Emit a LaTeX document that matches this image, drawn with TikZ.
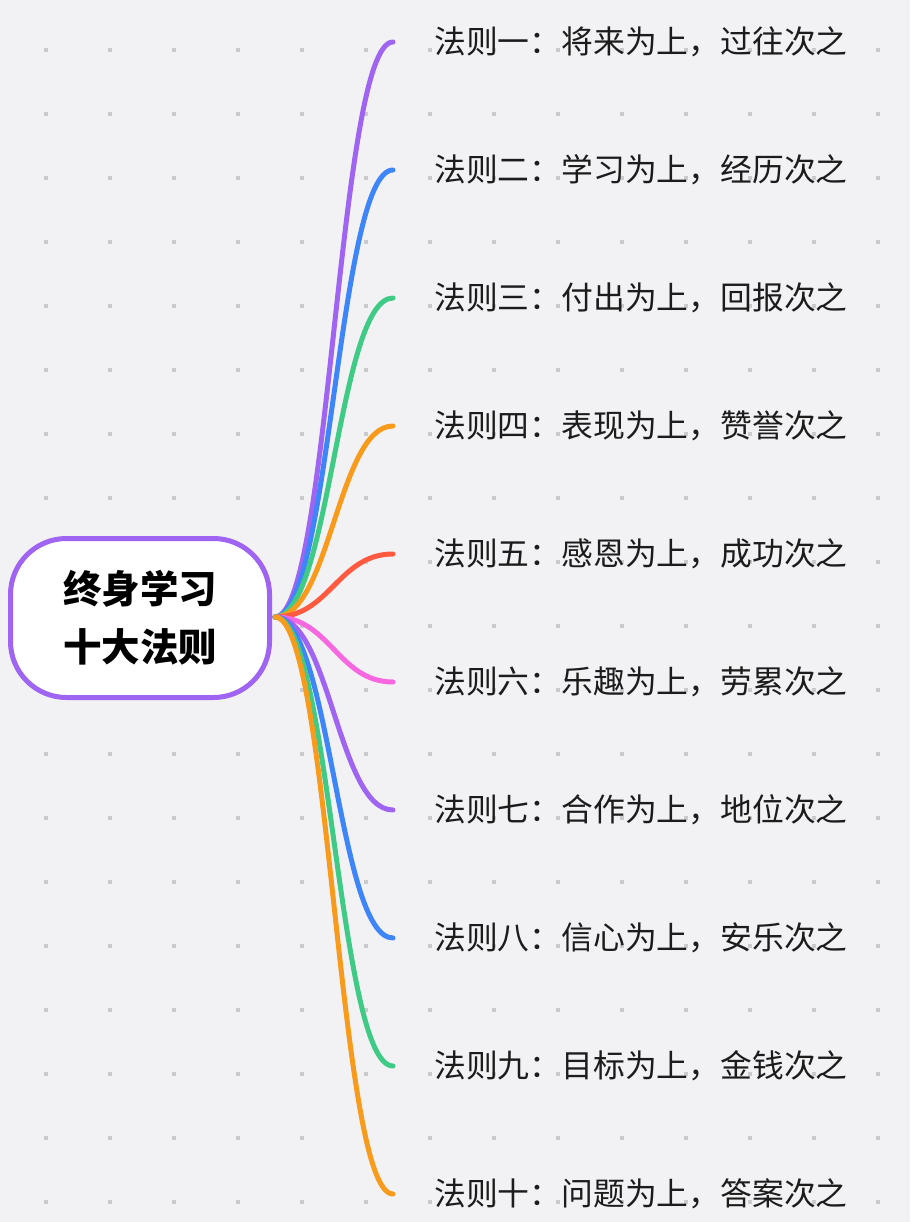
\documentclass[tikz,border=0pt]{standalone}
\usepackage{fontspec}
\setmainfont{Noto Sans CJK SC}
\definecolor{bg}{HTML}{F2F2F5}
\definecolor{dot}{HTML}{CBCBCD}
\definecolor{cpur}{HTML}{A064F2}
\definecolor{cblu}{HTML}{3F85FA}
\definecolor{cgrn}{HTML}{3FCB86}
\definecolor{corg}{HTML}{F89B1C}
\definecolor{cred}{HTML}{FF5A3F}
\definecolor{cpnk}{HTML}{F767DF}
\definecolor{ink}{HTML}{1C1C1C}
\begin{document}
\begin{tikzpicture}
[x=1pt,y=-1pt,
 br/.style={line width=5pt,line cap=round},
 lbl/.style={anchor=west,inner sep=0pt,text=ink,font=\fontsize{31.8}{34}\selectfont},
 root/.style={draw=cpur,line width=5pt,fill=white,rounded corners=56pt,
   minimum width=259pt,minimum height=159pt,align=center,text=black,
   font=\fontsize{38.5}{58}\selectfont\bfseries}]
% background and dot grid
\fill [bg] (0,0) rectangle (910,1222);
\useasboundingbox (0,0) rectangle (910,1222);
\foreach \i in {0,...,13}
  \foreach \j in {0,...,18}
    \fill [dot] (44+64*\i,48+64*\j) rectangle +(4,4);

% branch ends
\coordinate (e1) at (393,42);
\coordinate (e2) at (393,170);
\coordinate (e3) at (393,298);
\coordinate (e4) at (393,426);
\coordinate (e5) at (393,554);
\coordinate (e6) at (393,682);
\coordinate (e7) at (393,810);
\coordinate (e8) at (393,938);
\coordinate (e9) at (393,1066);
\coordinate (e10) at (393,1194);

\node [lbl] at (434,42) (t1) {法则一：将来为上，过往次之};
\node [lbl] at (434,170) (t2) {法则二：学习为上，经历次之};
\node [lbl] at (434,298) (t3) {法则三：付出为上，回报次之};
\node [lbl] at (434,426) (t4) {法则四：表现为上，赞誉次之};
\node [lbl] at (434,554) (t5) {法则五：感恩为上，成功次之};
\node [lbl] at (434,682) (t6) {法则六：乐趣为上，劳累次之};
\node [lbl] at (434,810) (t7) {法则七：合作为上，地位次之};
\node [lbl] at (434,938) (t8) {法则八：信心为上，安乐次之};
\node [lbl] at (434,1066) (t9) {法则九：目标为上，金钱次之};
\node [lbl] at (434,1194) (t10) {法则十：问题为上，答案次之};

\coordinate (o) at (275,617);
\draw [br,cpur] (o) .. controls +(55,0) and +(-55,0) .. (e1);
\draw [br,cblu] (o) .. controls +(55,0) and +(-55,0) .. (e2);
\draw [br,cgrn] (o) .. controls +(55,0) and +(-55,0) .. (e3);
\draw [br,corg] (o) .. controls +(55,0) and +(-55,0) .. (e4);
\draw [br,cred] (o) .. controls +(55,0) and +(-55,0) .. (e5);
\draw [br,cpnk] (o) .. controls +(55,0) and +(-55,0) .. (e6);
\draw [br,cpur] (o) .. controls +(55,0) and +(-55,0) .. (e7);
\draw [br,cblu] (o) .. controls +(55,0) and +(-55,0) .. (e8);
\draw [br,cgrn] (o) .. controls +(55,0) and +(-55,0) .. (e9);
\draw [br,corg] (o) .. controls +(55,0) and +(-55,0) .. (e10);

\node [root] at (140,618) (r) {终身学习\\十大法则};
\end{tikzpicture}
\end{document}
